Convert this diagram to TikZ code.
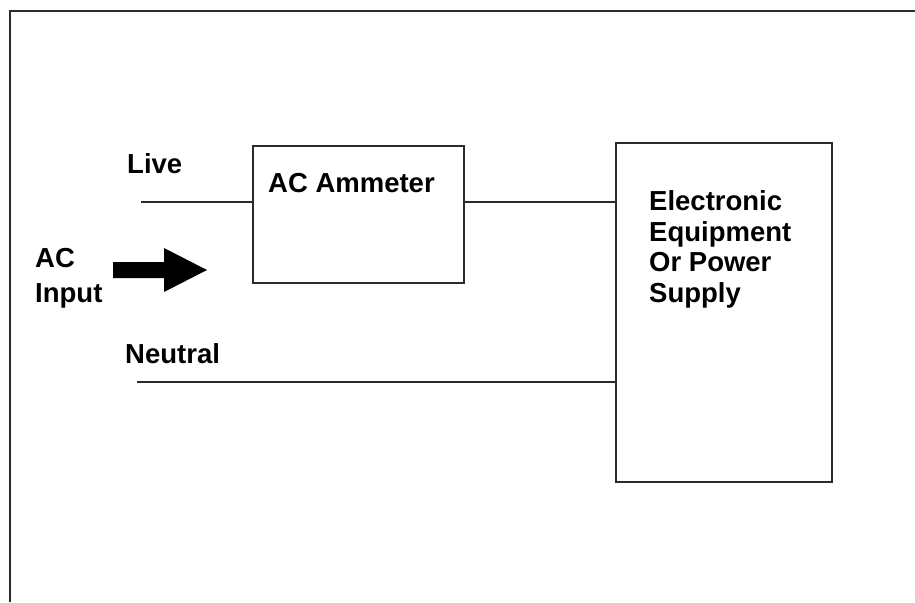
\documentclass[tikz,border=0pt]{standalone}
\usepackage{fontspec}
\setmainfont{Liberation Sans}
\usepackage{xcolor}
\usetikzlibrary{positioning}
\definecolor{ACLine}{HTML}{2B2B2B}
\tikzset{
  blockbox/.style={draw=ACLine,line width=1.6pt,minimum width=#1,inner sep=0pt},
  wire/.style={draw=ACLine,line width=1.4pt},
  lbl/.style={anchor=base west,inner sep=0pt,font=\fontsize{27.5}{35}\selectfont\bfseries}
}
\begin{document}
\begin{tikzpicture}[x=1pt,y=-1pt]
\useasboundingbox (0,0) rectangle (915,602);
\draw[ACLine,line width=2pt] (915,11) -- (10,11) -- (10,602);
\node[blockbox=211pt,minimum height=137pt] (amm) at (358.5,214.5) {};
\node[blockbox=216pt,minimum height=339pt] (equip) at (724,312.5) {};
\node[lbl] (ammtxt) at (268,192) {AC Ammeter};
\node[lbl,align=left,font=\fontsize{27.5}{30.5}\selectfont\bfseries] (equiptxt) at (649,302) {Electronic\\Equipment\\Or Power\\Supply};
\node[lbl] (livetxt) at (127,173) {Live};
\node[lbl] (neutxt) at (125,363) {Neutral};
\node[lbl,align=left] (acin) at (35,302) {AC\\Input};
\coordinate (live) at (141,202);
\coordinate (neu) at (137,382);
\draw[wire] (live) -- (live -| amm.west);
\draw[wire] (live -| amm.east) -- (live -| equip.west);
\draw[wire] (neu) -- (neu -| equip.west);
\fill[black] (113,262) -- (164,262) -- (164,248) -- (207,270) -- (164,292) -- (164,278) -- (113,278) -- cycle;
\end{tikzpicture}
\end{document}
